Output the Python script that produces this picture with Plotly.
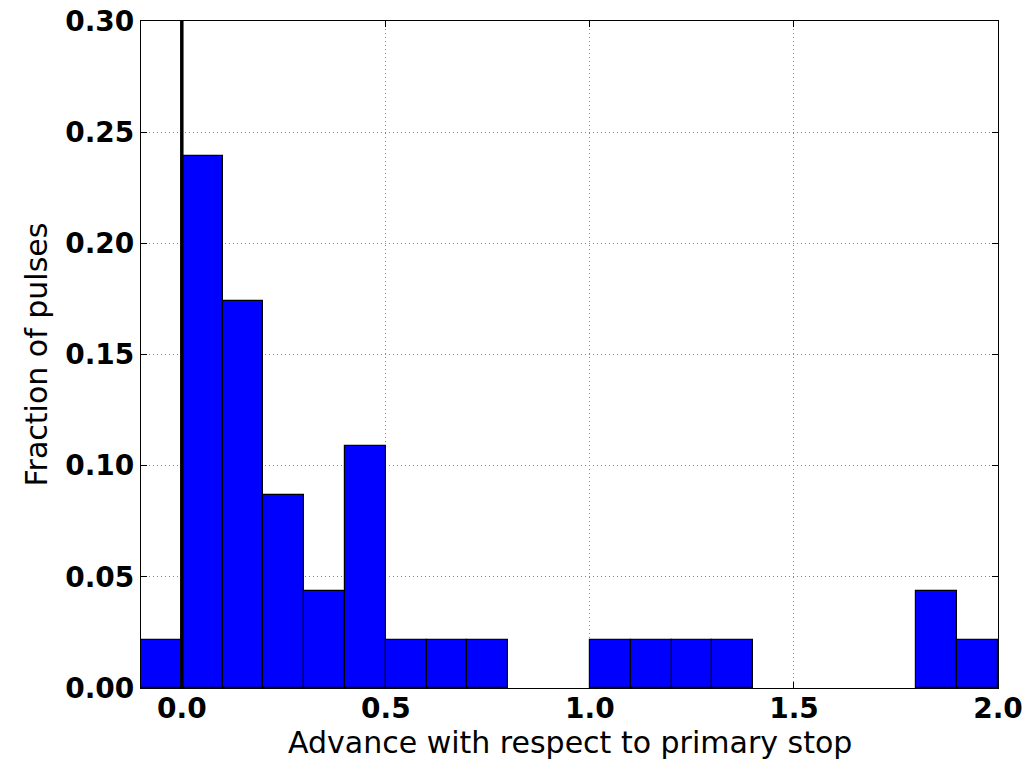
import plotly.graph_objects as go

# Histogram of pulse advances: left bin edges and fraction of pulses per bin
bin_left = [-0.1, 0.0, 0.1, 0.2, 0.3, 0.4, 0.5, 0.6, 0.7, 0.8, 0.9,
            1.0, 1.1, 1.2, 1.3, 1.4, 1.5, 1.6, 1.7, 1.8, 1.9]
fraction = [0.0217, 0.2391, 0.1739, 0.0870, 0.0435, 0.1087, 0.0217, 0.0217, 0.0217, 0.0, 0.0,
            0.0217, 0.0217, 0.0217, 0.0217, 0.0, 0.0, 0.0, 0.0, 0.0435, 0.0217]
bin_width = 0.1

x_ticks = [0.0, 0.5, 1.0, 1.5, 2.0]
x_tick_text = ["0.0", "0.5", "1.0", "1.5", "2.0"]
y_ticks = [0.0, 0.05, 0.10, 0.15, 0.20, 0.25, 0.30]
y_tick_text = ["0.00", "0.05", "0.10", "0.15", "0.20", "0.25", "0.30"]

# empty bins are not drawn (no outline along the baseline)
filled = [(b + bin_width / 2, f) for b, f in zip(bin_left, fraction) if f > 0]
centers = [c for c, _ in filled]
heights = [f for _, f in filled]

fig = go.Figure()
fig.add_trace(go.Bar(
    x=centers, y=heights, width=[bin_width] * len(centers),
    marker=dict(color="#0000ff", line=dict(color="black", width=1.2)),
    showlegend=False, hoverinfo="skip",
))

# reference line at zero advance
fig.add_shape(type="line", x0=0, x1=0, y0=0, y1=0.30, xref="x", yref="y",
              line=dict(color="black", width=3.5), layer="above")

tick_font = dict(family="DejaVu Sans", size=28, color="black", weight="bold")
title_font = dict(family="DejaVu Sans", size=30, color="black")

grid = dict(showgrid=True, gridcolor="#8a8a8a", griddash="1px,3px", gridwidth=1)

fig.update_layout(
    width=1025, height=761,
    margin=dict(l=141, r=27, t=21, b=73),
    plot_bgcolor="white", paper_bgcolor="white",
    bargap=0,
    xaxis=dict(
        range=[-0.1, 2.0], tickvals=x_ticks, ticktext=x_tick_text,
        tickfont=tick_font, ticks="inside", ticklen=6, tickcolor="black",
        ticklabelstandoff=-5,
        showline=True, linecolor="black", linewidth=1.2, mirror="ticks",
        zeroline=False, automargin=False, **grid,
    ),
    yaxis=dict(
        range=[0, 0.30], tickvals=y_ticks, ticktext=y_tick_text,
        tickfont=tick_font, ticks="inside", ticklen=6, tickcolor="black",
        showline=True, linecolor="black", linewidth=1.2, mirror="ticks",
        zeroline=False, automargin=False, **grid,
    ),
    annotations=[
        dict(text="Advance with respect to primary stop", font=title_font,
             xref="paper", yref="paper", x=0.5, y=-0.082,
             xanchor="center", yanchor="middle", showarrow=False),
        dict(text="Fraction of pulses", font=title_font, textangle=-90,
             xref="paper", yref="paper", x=-0.1214, y=0.5,
             xanchor="center", yanchor="middle", showarrow=False),
    ],
)

fig.write_html("out.html")
